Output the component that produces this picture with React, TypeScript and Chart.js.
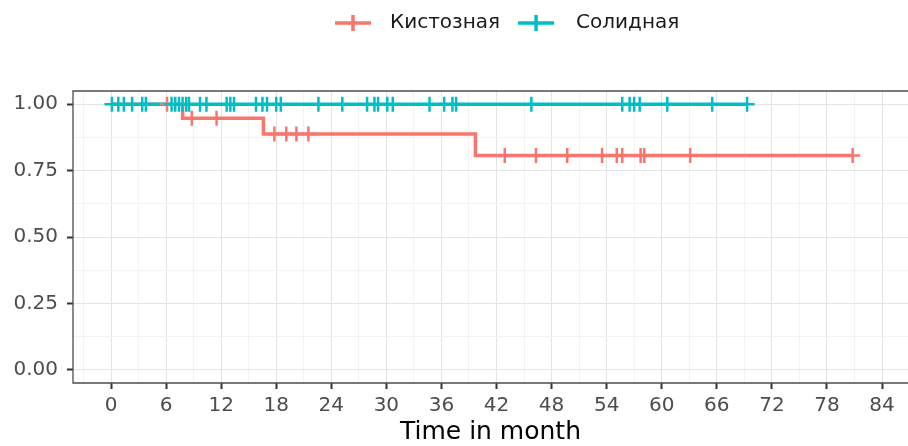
import React, { useEffect, useRef } from 'react';
import { Chart, registerables } from 'chart.js';

Chart.register(...registerables);

// ---- data ----
const groupLabels = ['Кистозная', 'Солидная'];
const groupColors = ['#F8766D', '#00BFC4'];

const cysticStepTimes = [0, 7.8, 16.6, 39.7, 80.8];
const cysticStepSurvival = [1, 0.947, 0.888, 0.807, 0.807];
const cysticCensorTimes = [6.1, 8.8, 11.5, 17.8, 19.1, 20.2, 21.5, 42.9, 46.3, 49.7, 53.5, 55.1, 55.7, 57.7, 58.1, 63.1, 80.8];

const solidStepTimes = [0, 69.3];
const solidStepSurvival = [1, 1];
const solidCensorTimes = [0.1, 0.8, 1.4, 2.3, 3.4, 3.8, 6.6, 7.0, 7.4, 7.8, 8.2, 8.5, 9.7, 10.4, 12.6, 13.0, 13.4, 15.8, 16.5, 17.0, 18.0, 18.5, 22.6, 25.2, 27.9, 28.7, 29.1, 30.1, 30.7, 34.7, 36.3, 37.2, 37.6, 45.8, 55.7, 56.5, 57.0, 57.6, 60.6, 65.5, 69.3];

const xMajorTicks = [0, 6, 12, 18, 24, 30, 36, 42, 48, 54, 60, 66, 72, 78, 84];
const xMinorTicks = [-3, 3, 9, 15, 21, 27, 33, 39, 45, 51, 57, 63, 69, 75, 81];
const yMajorTicks = [0, 0.25, 0.5, 0.75, 1];
const yMinorTicks = [0.125, 0.375, 0.625, 0.875];
const xAxisTitle = 'Time in month';

const FONT = '"DejaVu Sans", sans-serif';

function survivalAt(times: number[], surv: number[], t: number) {
  let s = surv[0];
  for (let i = 0; i < times.length; i++) if (times[i] <= t) s = surv[i];
  return s;
}

const framePlugin = {
  id: 'frameAndLegend',
  afterDatasetsDraw(chart: any) {
    const { ctx, chartArea } = chart;
    ctx.save();
    ctx.strokeStyle = '#4d4d4d';
    ctx.lineWidth = 1.3;
    ctx.beginPath();
    ctx.moveTo(chartArea.right + 2, chartArea.top);
    ctx.lineTo(chartArea.left, chartArea.top);
    ctx.lineTo(chartArea.left, chartArea.bottom);
    ctx.lineTo(chartArea.right + 2, chartArea.bottom);
    ctx.stroke();
    ctx.restore();
  },
  afterDraw(chart: any) {
    const { ctx } = chart;
    ctx.save();
    ctx.font = `20px ${FONT}`;
    const keyW = 36, itemGap = 18;
    const keyGaps = [19, 22];
    const widths = groupLabels.map((l) => ctx.measureText(l).width);
    let x = 335;
    const y = 23;
    groupLabels.forEach((label, i) => {
      ctx.strokeStyle = groupColors[i];
      ctx.lineWidth = 3.5;
      ctx.beginPath();
      ctx.moveTo(x, y);
      ctx.lineTo(x + keyW, y);
      ctx.moveTo(x + keyW / 2, y - 8);
      ctx.lineTo(x + keyW / 2, y + 8);
      ctx.stroke();
      ctx.fillStyle = '#1a1a1a';
      ctx.textBaseline = 'middle';
      ctx.textAlign = 'left';
      ctx.fillText(label, x + keyW + keyGaps[i], y);
      x += keyW + keyGaps[i] + widths[i] + itemGap;
    });
    ctx.restore();
  },
};

export default function App() {
  const canvasRef = useRef<HTMLCanvasElement | null>(null);

  useEffect(() => {
    document.body.style.margin = '0';
    const canvas = canvasRef.current;
    if (!canvas) return;

    const stepData = (times: number[], surv: number[]) => times.map((t, i) => ({ x: t, y: surv[i] }));
    const censorData = (cens: number[], times: number[], surv: number[]) =>
      cens.map((t) => ({ x: t, y: survivalAt(times, surv, t) }));

    const isMajor = (list: number[], v: number) => list.some((m) => Math.abs(m - v) < 1e-6);

    const chart = new Chart(canvas, {
      type: 'scatter',
      data: {
        datasets: [
          {
            label: groupLabels[1] + ' censor',
            data: censorData(solidCensorTimes, solidStepTimes, solidStepSurvival),
            showLine: false,
            pointStyle: 'cross',
            pointRadius: 7.5,
            pointBorderWidth: 2.5,
            borderColor: groupColors[1],
            backgroundColor: groupColors[1],
            order: 0,
          },
          {
            label: groupLabels[0] + ' censor',
            data: censorData(cysticCensorTimes, cysticStepTimes, cysticStepSurvival),
            showLine: false,
            pointStyle: 'cross',
            pointRadius: 7.5,
            pointBorderWidth: 2.5,
            borderColor: groupColors[0],
            backgroundColor: groupColors[0],
            order: 1,
          },
          {
            label: groupLabels[1],
            data: stepData(solidStepTimes, solidStepSurvival),
            showLine: true,
            stepped: 'before',
            pointRadius: 0,
            borderWidth: 3.5,
            borderColor: groupColors[1],
            backgroundColor: groupColors[1],
            order: 2,
          },
          {
            label: groupLabels[0],
            data: stepData(cysticStepTimes, cysticStepSurvival),
            showLine: true,
            stepped: 'before',
            pointRadius: 0,
            borderWidth: 3.5,
            borderColor: groupColors[0],
            backgroundColor: groupColors[0],
            order: 3,
          },
        ],
      },
      options: {
        responsive: false,
        animation: false,
        events: [],
        layout: { autoPadding: false, padding: { top: 91, left: 0, right: 0, bottom: 0 } },
        plugins: { legend: { display: false }, tooltip: { enabled: false } },
        scales: {
          x: {
            type: 'linear',
            min: -4.14,
            max: 86.83,
            afterBuildTicks: (scale: any) => {
              scale.ticks = [...xMinorTicks, ...xMajorTicks].sort((a, b) => a - b).map((v) => ({ value: v }));
            },
            afterFit: (scale: any) => {
              scale.height = 63;
              scale.paddingLeft = 0;
              scale.paddingRight = 0;
            },
            border: { display: false },
            grid: {
              color: (c: any) => (isMajor(xMajorTicks, c.tick?.value) ? '#e4e4e4' : '#f3f3f3'),
              lineWidth: 1,
              drawTicks: true,
              tickLength: 6,
              tickWidth: 2,
              tickColor: (c: any) => (isMajor(xMajorTicks, c.tick?.value) ? '#333333' : 'rgba(0,0,0,0)'),
            },
            ticks: {
              autoSkip: false,
              maxRotation: 0,
              padding: 5,
              color: '#4d4d4d',
              font: { family: FONT, size: 20 },
              callback: (v: any) => (isMajor(xMajorTicks, Number(v)) ? String(v) : ''),
            },
            title: {
              display: true,
              text: xAxisTitle,
              color: '#000000',
              font: { family: FONT, size: 25, lineHeight: 1.05 },
              padding: 0,
            },
          },
          y: {
            type: 'linear',
            min: -0.05,
            max: 1.05,
            afterBuildTicks: (scale: any) => {
              scale.ticks = [...yMajorTicks, ...yMinorTicks].sort((a, b) => a - b).map((v) => ({ value: v }));
            },
            afterFit: (scale: any) => {
              scale.width = 73;
              scale.paddingTop = 0;
              scale.paddingBottom = 0;
            },
            border: { display: false },
            grid: {
              color: (c: any) => (isMajor(yMajorTicks, c.tick?.value) ? '#e4e4e4' : '#f3f3f3'),
              lineWidth: 1,
              drawTicks: true,
              tickLength: 6,
              tickWidth: 2,
              tickColor: (c: any) => (isMajor(yMajorTicks, c.tick?.value) ? '#333333' : 'rgba(0,0,0,0)'),
            },
            ticks: {
              autoSkip: false,
              padding: 9,
              color: '#4d4d4d',
              font: { family: FONT, size: 20 },
              callback: (v: any) => (isMajor(yMajorTicks, Number(v)) ? Number(v).toFixed(2) : ''),
            },
          },
        },
      },
      plugins: [framePlugin],
    });

    return () => chart.destroy();
  }, []);

  return (
    <div style={{ position: 'fixed', left: 0, top: 0, width: 908, height: 446, background: '#ffffff' }}>
      <canvas ref={canvasRef} width={908} height={446} style={{ display: 'block', width: 908, height: 446 }} />
    </div>
  );
}
